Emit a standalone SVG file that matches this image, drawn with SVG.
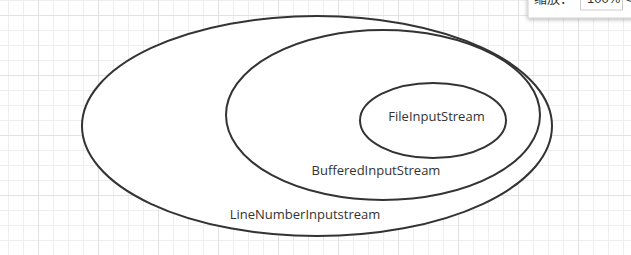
<svg xmlns="http://www.w3.org/2000/svg" width="631" height="255" viewBox="0 0 631 255">
  <style>
    .bubble { fill: #ffffff; stroke: #333333; stroke-width: 2; }
    .label { font-family: "Segoe UI", "Open Sans", "Liberation Sans", "Noto Sans CJK SC", sans-serif; font-size: 13px; fill: #333333; text-anchor: middle; }
    .ui { font-family: "Liberation Sans", "Noto Sans CJK SC", sans-serif; font-size: 13px; fill: #333333; }
  </style>
  <defs>
    <pattern id="grid" patternUnits="userSpaceOnUse" x="38" y="15" width="60" height="60">
      <path d="M15.5 0V60M30.5 0V60M45.5 0V60M0 15.5H60M0 30.5H60M0 45.5H60" stroke="#eeeeee" stroke-width="1" fill="none"/>
      <path d="M0.5 0V60M0 0.5H60" stroke="#e2e2e2" stroke-width="1" fill="none"/>
    </pattern>
    <filter id="panelShadow" x="-20%" y="-50%" width="140%" height="200%">
      <feDropShadow dx="0" dy="1" stdDeviation="2" flood-color="#000000" flood-opacity="0.3"/>
    </filter>
  </defs>

  <!-- canvas -->
  <rect width="631" height="255" fill="#ffffff"/>
  <rect width="631" height="255" fill="url(#grid)"/>

  <!-- nested streams -->
  <g id="line-number-input-stream">
    <ellipse class="bubble" cx="317" cy="126" rx="235" ry="110"/>
    <text class="label" x="305" y="219">LineNumberInputstream</text>
  </g>
  <g id="buffered-input-stream">
    <ellipse class="bubble" cx="383" cy="115" rx="157" ry="85"/>
    <text class="label" x="376" y="175">BufferedInputStream</text>
  </g>
  <g id="file-input-stream">
    <ellipse class="bubble" cx="433" cy="120.5" rx="73" ry="37.5"/>
    <text class="label" x="436.5" y="121">FileInputStream</text>
  </g>

  <!-- zoom panel -->
  <g id="zoom-panel">
    <rect x="528" y="-6" width="110" height="24" fill="#ffffff" stroke="#d0d0d0" stroke-width="1" filter="url(#panelShadow)"/>
    <text class="ui" x="534" y="3">缩放：</text>
    <rect x="580.5" y="-6" width="42" height="16" fill="#ffffff" stroke="#cccccc" stroke-width="1"/>
    <text class="ui" x="587" y="3">100%</text>
    <text class="ui" x="624" y="3">&lt;</text>
  </g>
</svg>
